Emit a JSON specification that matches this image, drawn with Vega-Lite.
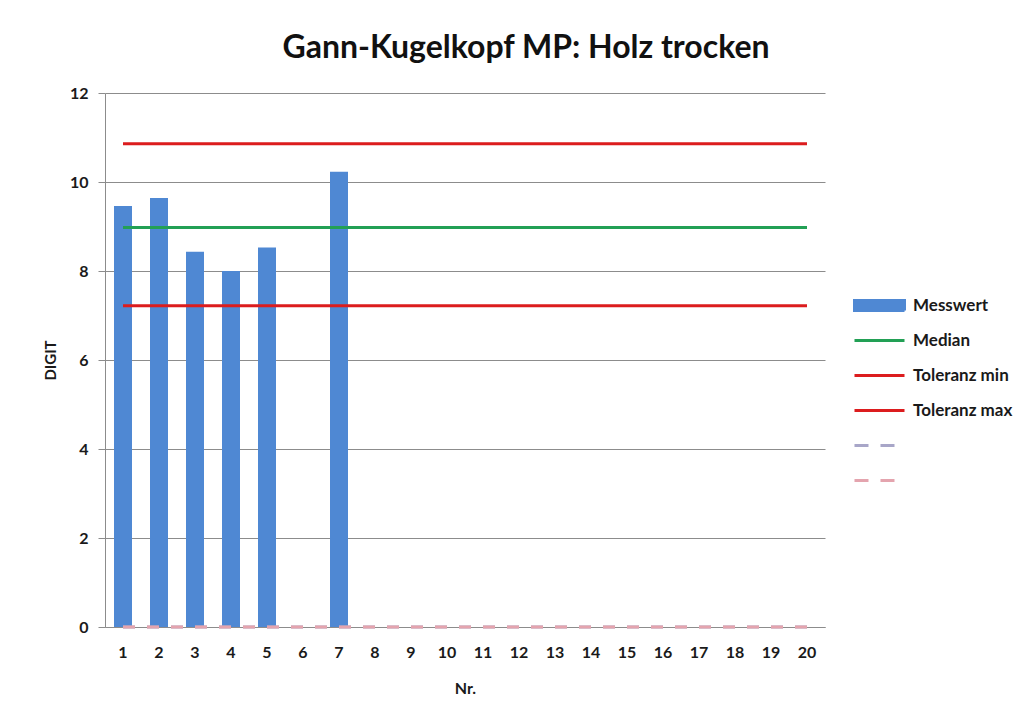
{
  "$schema": "https://vega.github.io/schema/vega-lite/v6.json",
  "autosize": "none",
  "width": 720,
  "height": 534,
  "padding": {"left": 105, "top": 93, "right": 202, "bottom": 88},
  "background": "white",
  "title": {
    "text": "Gann-Kugelkopf MP: Holz trocken",
    "font": "Lato",
    "fontSize": 32,
    "fontWeight": "bold",
    "color": "#111111",
    "anchor": "middle",
    "dx": 61,
    "offset": 20
  },
  "data": {
    "values": [
      {"Nr": 1, "Messwert": 9.46, "Median": 8.98, "Toleranz min": 7.22, "Toleranz max": 10.86, "_a": 0, "_b": 0},
      {"Nr": 2, "Messwert": 9.64, "Median": 8.98, "Toleranz min": 7.22, "Toleranz max": 10.86, "_a": 0, "_b": 0},
      {"Nr": 3, "Messwert": 8.43, "Median": 8.98, "Toleranz min": 7.22, "Toleranz max": 10.86, "_a": 0, "_b": 0},
      {"Nr": 4, "Messwert": 8.0, "Median": 8.98, "Toleranz min": 7.22, "Toleranz max": 10.86, "_a": 0, "_b": 0},
      {"Nr": 5, "Messwert": 8.53, "Median": 8.98, "Toleranz min": 7.22, "Toleranz max": 10.86, "_a": 0, "_b": 0},
      {"Nr": 6, "Messwert": null, "Median": 8.98, "Toleranz min": 7.22, "Toleranz max": 10.86, "_a": 0, "_b": 0},
      {"Nr": 7, "Messwert": 10.23, "Median": 8.98, "Toleranz min": 7.22, "Toleranz max": 10.86, "_a": 0, "_b": 0},
      {"Nr": 8, "Messwert": null, "Median": 8.98, "Toleranz min": 7.22, "Toleranz max": 10.86, "_a": 0, "_b": 0},
      {"Nr": 9, "Messwert": null, "Median": 8.98, "Toleranz min": 7.22, "Toleranz max": 10.86, "_a": 0, "_b": 0},
      {"Nr": 10, "Messwert": null, "Median": 8.98, "Toleranz min": 7.22, "Toleranz max": 10.86, "_a": 0, "_b": 0},
      {"Nr": 11, "Messwert": null, "Median": 8.98, "Toleranz min": 7.22, "Toleranz max": 10.86, "_a": 0, "_b": 0},
      {"Nr": 12, "Messwert": null, "Median": 8.98, "Toleranz min": 7.22, "Toleranz max": 10.86, "_a": 0, "_b": 0},
      {"Nr": 13, "Messwert": null, "Median": 8.98, "Toleranz min": 7.22, "Toleranz max": 10.86, "_a": 0, "_b": 0},
      {"Nr": 14, "Messwert": null, "Median": 8.98, "Toleranz min": 7.22, "Toleranz max": 10.86, "_a": 0, "_b": 0},
      {"Nr": 15, "Messwert": null, "Median": 8.98, "Toleranz min": 7.22, "Toleranz max": 10.86, "_a": 0, "_b": 0},
      {"Nr": 16, "Messwert": null, "Median": 8.98, "Toleranz min": 7.22, "Toleranz max": 10.86, "_a": 0, "_b": 0},
      {"Nr": 17, "Messwert": null, "Median": 8.98, "Toleranz min": 7.22, "Toleranz max": 10.86, "_a": 0, "_b": 0},
      {"Nr": 18, "Messwert": null, "Median": 8.98, "Toleranz min": 7.22, "Toleranz max": 10.86, "_a": 0, "_b": 0},
      {"Nr": 19, "Messwert": null, "Median": 8.98, "Toleranz min": 7.22, "Toleranz max": 10.86, "_a": 0, "_b": 0},
      {"Nr": 20, "Messwert": null, "Median": 8.98, "Toleranz min": 7.22, "Toleranz max": 10.86, "_a": 0, "_b": 0}
    ]
  },
  "transform": [
    {"fold": ["Messwert", "Median", "Toleranz min", "Toleranz max", "_a", "_b"], "as": ["series", "value"]}
  ],
  "encoding": {
    "x": {
      "field": "Nr",
      "type": "ordinal",
      "scale": {"paddingInner": 0.5, "paddingOuter": 0.25},
      "axis": {
        "title": "Nr.",
        "labelAngle": 0,
        "labelFont": "Lato",
        "labelFontSize": 16,
        "labelFontWeight": "bold",
        "labelColor": "#1a1a1a",
        "labelPadding": 17,
        "ticks": false,
        "domain": true,
        "domainColor": "#8c8c8c",
        "titleFont": "Lato",
        "titleFontSize": 16,
        "titleFontWeight": "bold",
        "titleColor": "#1a1a1a",
        "titlePadding": 20
      }
    },
    "y": {
      "field": "value",
      "type": "quantitative",
      "scale": {"domain": [0, 12], "nice": false},
      "axis": {
        "title": "DIGIT",
        "values": [0, 2, 4, 6, 8, 10, 12],
        "grid": true,
        "gridColor": "#8c8c8c",
        "gridWidth": 1,
        "domainColor": "#8c8c8c",
        "tickColor": "#8c8c8c",
        "tickSize": 7,
        "labelPadding": 10,
        "labelFont": "Lato",
        "labelFontSize": 16,
        "labelFontWeight": "bold",
        "labelColor": "#1a1a1a",
        "titleFont": "Lato",
        "titleFontSize": 15,
        "titleFontWeight": "bold",
        "titleColor": "#1a1a1a",
        "titlePadding": 11
      }
    },
    "color": {
      "field": "series",
      "type": "nominal",
      "scale": {
        "domain": ["Messwert", "Median", "Toleranz min", "Toleranz max", "_a", "_b"],
        "range": ["#4f88d3", "#22a055", "#dc1c1e", "#dc1c1e", "#a8a6c8", "#e4a4ae"]
      },
      "legend": {
        "orient": "none",
        "legendX": 758,
        "legendY": 196,
        "title": null,
        "symbolSize": 900,
        "symbolStrokeWidth": 3,
        "rowPadding": 7,
        "gridAlign": "all",
        "labelOffset": 17,
        "labelFont": "Lato",
        "labelFontSize": 17,
        "labelFontWeight": "bold",
        "labelColor": "#1a1a1a",
        "labelExpr": "indexof(datum.label, '_') == 0 ? '' : datum.label",
        "encode": {
          "symbols": {
            "update": {
              "shape": [
                {"test": "datum.value === 'Messwert'", "value": "M-1.667,-0.333H1.667V0.333H-1.667Z"},
                {"value": "M-1.667,0H1.667"}
              ],
              "fill": [
                {"test": "datum.value === 'Messwert'", "value": "#4f88d3"},
                {"value": "transparent"}
              ],
              "stroke": [
                {"test": "datum.value === 'Messwert'", "value": "transparent"},
                {"scale": "color", "field": "value"}
              ],
              "strokeWidth": {"value": 3},
              "strokeDash": [
                {"test": "indexof(datum.value, '_') == 0", "value": [14, 12]},
                {"value": [1, 0]}
              ]
            }
          }
        }
      }
    }
  },
  "layer": [
    {
      "transform": [{"filter": "datum.series === 'Messwert' && isValid(datum.value)"}],
      "mark": {"type": "bar"}
    },
    {
      "transform": [{"filter": "datum.series !== 'Messwert'"}],
      "mark": {"type": "line", "strokeWidth": 3},
      "encoding": {
        "strokeDash": {
          "field": "series",
          "type": "nominal",
          "scale": {
            "domain": ["Median", "Toleranz min", "Toleranz max", "_a", "_b"],
            "range": [[1, 0], [1, 0], [1, 0], [12, 12], [12, 12]]
          },
          "legend": null
        }
      }
    }
  ],
  "config": {
    "view": {"stroke": null}
  }
}
